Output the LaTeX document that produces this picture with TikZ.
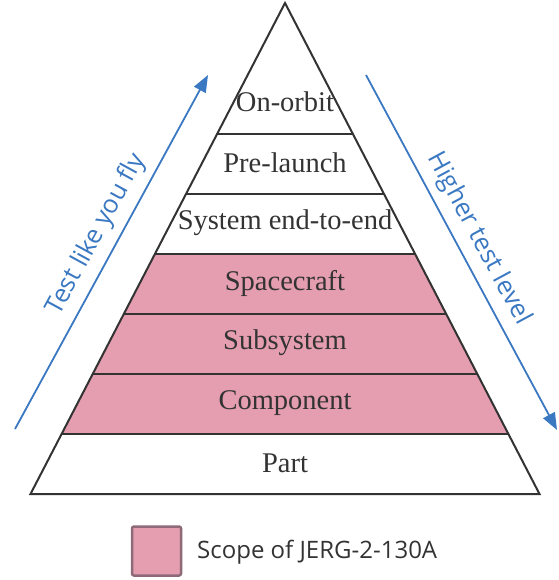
\documentclass[tikz,border=0pt]{standalone}
\usepackage{fontspec}
\setmainfont{Liberation Serif}
\newfontfamily\labelfont{Open Sans}
\usetikzlibrary{arrows.meta}
\definecolor{scopepink}{HTML}{E59DB0}
\definecolor{scopeedge}{HTML}{8E6A78}
\definecolor{arrowblue}{HTML}{3A78C2}
\definecolor{textgray}{HTML}{333333}
\begin{document}
\begin{tikzpicture}[x=1pt,y=-1pt,
  levellabel/.style={font=\fontsize{28.5}{32}\selectfont, text=textgray, inner sep=0pt},
  divider/.style={draw=textgray, line width=1.3pt},
  bluearrow/.style={draw=arrowblue, line width=1.8pt, -{Triangle[length=17pt,width=13pt]}},
  bluelabel/.style={font=\labelfont\fontsize{25.5}{29}\selectfont, text=arrowblue, sloped, inner sep=0pt}]
\useasboundingbox (0,0) rectangle (558,580);
% scope fill
\fill[scopepink] (154.9,254) -- (415.1,254) -- (508.4,434) -- (61.6,434) -- cycle;
% dividers
\draw[divider] (217.1,134) -- (352.9,134);
\draw[divider] (186.0,194) -- (384.0,194);
\draw[divider] (154.9,254) -- (415.1,254);
\draw[divider] (123.8,314) -- (446.2,314);
\draw[divider] (92.7,374) -- (477.3,374);
\draw[divider] (61.6,434) -- (508.4,434);
% outline
\draw[draw=textgray, line width=2pt, line join=miter] (285,3) -- (539.5,494) -- (30.5,494) -- cycle;
% level labels
\node[levellabel] (orbit) at (285,102) {On-orbit};
\node[levellabel] (prelaunch) at (285,163) {Pre-launch};
\node[levellabel] (system) at (285,223) {System end-to-end};
\node[levellabel] (spacecraft) at (285,283) {Spacecraft};
\node[levellabel] (subsystem) at (285,343) {Subsystem};
\node[levellabel] (component) at (285,403) {Component};
\node[levellabel] (part) at (285,463) {Part};
% arrows
\coordinate (tl1) at (15,429);
\coordinate (tl2) at (208,75);
\coordinate (tr1) at (366,75);
\coordinate (tr2) at (557,430);
\draw[bluearrow] (tl1) -- node[bluelabel, pos=0.52, above=8pt] (fly) {Test like you fly} (tl2);
\draw[bluearrow] (tr1) -- node[bluelabel, pos=0.49, above=8pt] (higher) {Higher test level} (tr2);
% legend
\node[draw=scopeedge, fill=scopepink, line width=2.5pt, minimum size=49pt, inner sep=0pt, rounded corners=2pt] (legbox) at (156.5,551) {};
\node[font=\labelfont\fontsize{24}{28}\selectfont, text=textgray, anchor=west, inner sep=0pt] (legtext) at (197,552) {Scope of JERG-2-130A};
\end{tikzpicture}
\end{document}
